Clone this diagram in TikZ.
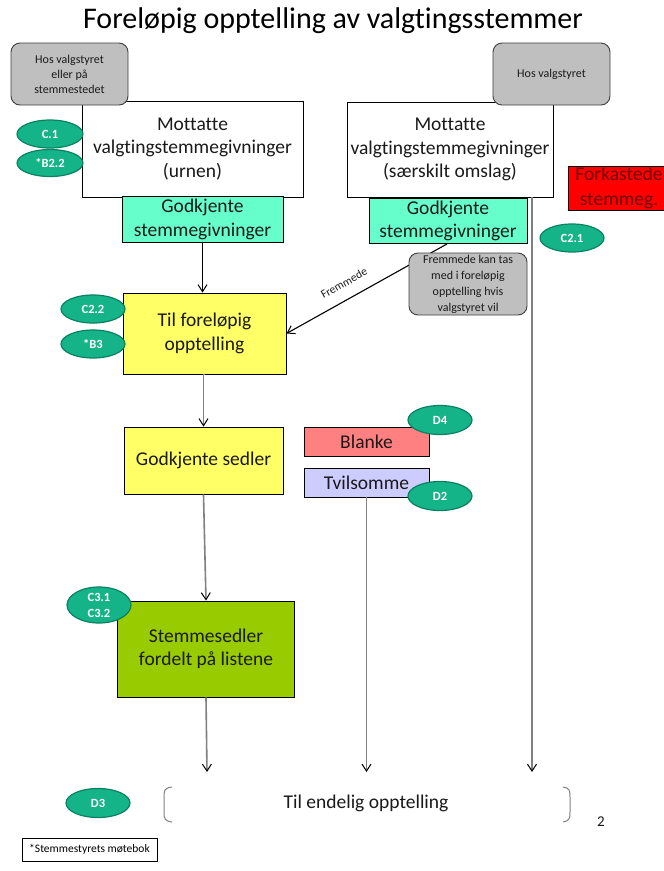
\documentclass[tikz,border=0pt]{standalone}
\usepackage{fontspec}
\setmainfont{Carlito}[Ligatures=NoCommon]
\usetikzlibrary{shapes.geometric,arrows.meta}
\definecolor{txt}{RGB}{26,26,26}
\definecolor{ovalfill}{RGB}{20,180,136}
\definecolor{ovaldraw}{RGB}{10,130,98}
\definecolor{cyanbox}{RGB}{102,255,204}
\definecolor{yellowbox}{RGB}{255,255,102}
\definecolor{greenbox}{RGB}{153,204,0}
\definecolor{pinkbox}{RGB}{255,128,128}
\definecolor{lavbox}{RGB}{204,204,255}
\definecolor{graybox}{RGB}{191,191,191}
\definecolor{grayborder}{RGB}{64,64,64}
\definecolor{redbox}{RGB}{255,0,0}
\definecolor{darkred}{RGB}{110,0,0}
\definecolor{linegray}{RGB}{128,128,128}
\begin{document}
\begin{tikzpicture}[x=1pt,y=-1pt,
  box/.style={draw=black,line width=0.9pt,inner sep=0pt,align=center,text=txt,
    font=\fontsize{19.5}{23.5}\selectfont},
  notebox/.style={draw=grayborder,fill=graybox,line width=0.9pt,rounded corners=9pt,
    inner sep=0pt,align=center,text=txt,font=\fontsize{12}{15}\selectfont},
  oval/.style={ellipse,draw=ovaldraw,fill=ovalfill,line width=1.2pt,inner sep=0pt,
    minimum width=64pt,minimum height=28pt,text=white,align=center,
    font=\fontsize{12.5}{16}\selectfont\bfseries},
  grayline/.style={draw=linegray,line width=1.6pt,-{Straight Barb[length=7pt,width=9pt,color=black,line width=1pt]}},
  blackline/.style={draw=black,line width=1.1pt,-{Straight Barb[length=7pt,width=9pt,line width=1pt]}}
]
\useasboundingbox (0,0) rectangle (664,871);
\fill[white] (0,0) rectangle (664,871);

% title
\node[text=black,font=\fontsize{30}{36}\selectfont] (title) at (333,21) {Foreløpig opptelling av valgtingsstemmer};

% white boxes
\node[box,fill=white,minimum width=221pt,minimum height=96pt] (m1) at (192.5,149)
  {Mottatte\\valgtingstemmegivninger\\(urnen)};
\node[box,fill=white,minimum width=206pt,minimum height=95pt] (m2) at (450,149.5)
  {Mottatte\\valgtingstemmegivninger\\(særskilt omslag)};

% gray location boxes
\node[notebox,minimum width=117pt,minimum height=62pt] (g1) at (69.5,74)
  {Hos valgstyret\\eller på\\stemmestedet};
\node[notebox,minimum width=117pt,minimum height=62pt] (g2) at (551.5,74)
  {Hos valgstyret};

% approved boxes
\node[box,fill=cyanbox,minimum width=161pt,minimum height=46pt] (god1) at (202.5,219.5)
  {Godkjente\\stemmegivninger};
\node[box,fill=cyanbox,minimum width=158pt,minimum height=45pt] (god2) at (448,221)
  {Godkjente\\stemmegivninger};

% rejected
\node[box,fill=redbox,text=darkred,minimum width=102pt,minimum height=44pt,
  font=\fontsize{19.5}{24.5}\selectfont] (fork) at (619,188) {Forkastede\\stemmeg.};

% yellow boxes
\node[box,fill=yellowbox,minimum width=163pt,minimum height=81pt] (til) at (204.5,333.5)
  {Til foreløpig\\opptelling};
\node[box,fill=yellowbox,minimum width=159pt,minimum height=67pt] (sedler) at (203.5,460.5)
  {Godkjente sedler};

% blank / doubtful
\node[box,fill=pinkbox,minimum width=125pt,minimum height=29pt] (blanke) at (366.5,441.5) {Blanke};
\node[box,fill=lavbox,minimum width=125pt,minimum height=29pt] (tvil) at (366.5,482.5) {Tvilsomme};

% green box
\node[box,fill=greenbox,minimum width=177pt,minimum height=96pt] (stem) at (206,649)
  {Stemmesedler\\fordelt på listene};

% end coordinates
\coordinate (e1) at (207,772);
\coordinate (e2) at (366.5,772);
\coordinate (e3) at (532,772);
\coordinate (fx) at (447,0);

% connectors
\draw[blackline] (god1.south) -- (god1.south |- til.north);
\draw[grayline] (til.south) -- (til.south -| sedler.north) -- (sedler.north);
\draw[grayline] (sedler.south) -- (stem.north);
\draw[grayline] (stem.south) -- (e1);
\draw[grayline] (tvil.south) -- (e2);
\draw[grayline] (m2.south -| e3) -- (e3);
\draw[blackline] (god2.south -| fx) -- (til.east);
\node[rotate=29,text=txt,font=\fontsize{11.5}{13}\selectfont] (flabel) at (344,283) {Fremmede};

% note on foreign votes
\node[notebox,minimum width=118pt,minimum height=62pt,font=\fontsize{12}{16}\selectfont] (note) at (468,284)
  {Fremmede kan tas\\med i foreløpig\\opptelling hvis\\valgstyret vil};

% ovals
\node[oval,minimum width=66pt] (c1) at (50,134) {C.1};
\node[oval,minimum width=66pt,minimum height=27pt] (b22) at (50,163) {*B2.2};
\node[oval] (c21) at (572,238) {C2.1};
\node[oval] (c22) at (93,309) {C2.2};
\node[oval] (b3) at (93,344) {*B3};
\node[oval,minimum height=29pt] (d4) at (440,420) {D4};
\node[oval,minimum height=29pt] (d2) at (440,496) {D2};
\node[oval,minimum height=36pt] (c3) at (99,605) {C3.1\\C3.2};
\node[oval,minimum height=29pt] (d3) at (98,803) {D3};

% final counting with brackets
\node[text=txt,font=\fontsize{19.5}{23.5}\selectfont] (endelig) at (366,803) {Til endelig opptelling};
\draw[linegray,line width=1pt] (172,787) .. controls (164,788) and (164,791) .. (164,797)
  -- (164,812) .. controls (164,819) and (165,821) .. (172,822);
\draw[linegray,line width=1pt] (563,787) .. controls (570,788) and (570,791) .. (570,797)
  -- (570,812) .. controls (570,819) and (569,821) .. (563,822);

\node[text=txt,font=\fontsize{15}{18}\selectfont] (pagenum) at (601,822) {2};

\node[draw=black,line width=0.9pt,inner sep=0pt,minimum width=135pt,minimum height=23pt,
  text=black,font=\fontsize{11.5}{14}\selectfont] (legend) at (89.5,849.5) {*Stemmestyrets møtebok};
\end{tikzpicture}
\end{document}
